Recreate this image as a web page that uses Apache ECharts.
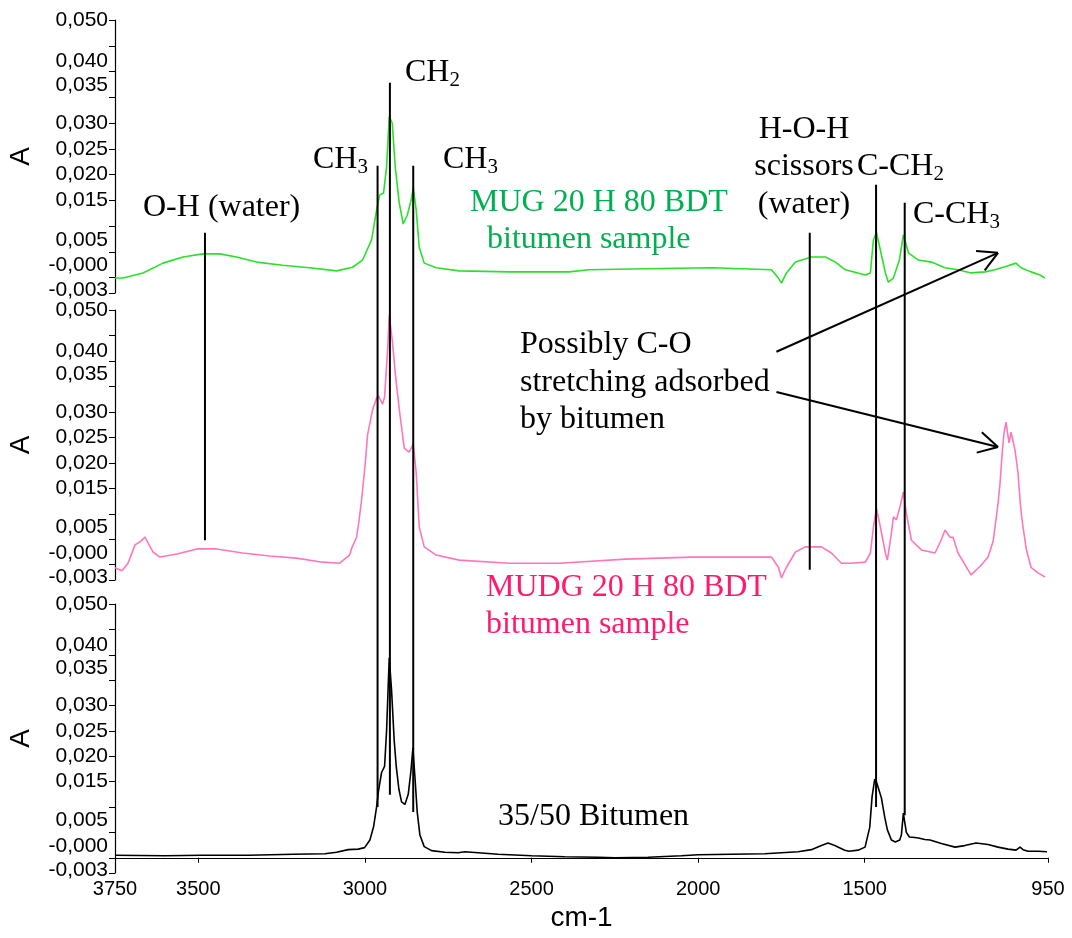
<!DOCTYPE html>
<html><head><meta charset="utf-8">
<script src="https://cdn.jsdelivr.net/npm/echarts@6/dist/echarts.min.js"></script>
<style>html,body{margin:0;padding:0;background:#fff}#c{width:1072px;height:938px}</style>
</head><body><div id="c"></div>
<script>
// ---------- data ----------
const wnMUG = [3750,3726,3666,3606,3546,3486,3436,3385,3325,3247,3166,3085,3037,3007,2980,2965,2956,2944,2935,2927,2918,2909,2897,2885,2873,2861,2855,2846,2837,2822,2786,2717,2567,2387,2328,2157,1959,1780,1759,1750,1735,1708,1660,1618,1588,1558,1498,1483,1474,1465,1453,1438,1429,1414,1396,1384,1369,1339,1300,1259,1220,1181,1139,1109,1079,1046,1031,1001,974,959];
const absMUG = [-0.0001,-0.0001,0.0009,0.0028,0.0040,0.0046,0.0046,0.0040,0.0030,0.0024,0.0019,0.0013,0.0020,0.0034,0.0073,0.0131,0.0160,0.0164,0.0215,0.0312,0.0300,0.0215,0.0145,0.0104,0.0121,0.0151,0.0174,0.0131,0.0059,0.0028,0.0019,0.0013,0.0011,0.0011,0.0015,0.0017,0.0019,0.0015,-0.0001,-0.0011,0.0009,0.0030,0.0040,0.0040,0.0030,0.0015,0.0005,0.0009,0.0073,0.0088,0.0053,0.0009,-0.0009,-0.0001,0.0034,0.0083,0.0048,0.0034,0.0030,0.0019,0.0015,0.0009,0.0011,0.0015,0.0021,0.0028,0.0019,0.0011,0.0005,-0.0001];

const wnMUDG = [3750,3729,3711,3690,3675,3660,3651,3636,3615,3564,3504,3445,3367,3286,3205,3127,3076,3046,3040,3025,3018,3010,2998,2992,2986,2977,2965,2959,2947,2941,2932,2927,2918,2906,2894,2882,2867,2855,2846,2837,2822,2786,2717,2567,2417,2217,2019,1780,1759,1750,1735,1708,1678,1630,1600,1570,1540,1498,1483,1474,1465,1453,1438,1432,1420,1414,1405,1393,1384,1375,1360,1330,1289,1271,1259,1244,1235,1220,1181,1151,1130,1115,1109,1100,1094,1088,1082,1076,1067,1061,1049,1040,1034,1030,1025,1015,1001,980,959];
const absMUDG = [-0.0006,-0.0012,0.0003,0.0039,0.0045,0.0054,0.0043,0.0025,0.0015,0.0021,0.0031,0.0031,0.0023,0.0017,0.0013,0.0005,0.0003,0.0019,0.0032,0.0054,0.0085,0.0127,0.0206,0.0255,0.0255,0.0304,0.0327,0.0331,0.0315,0.0329,0.0421,0.0490,0.0441,0.0357,0.0290,0.0229,0.0221,0.0237,0.0180,0.0074,0.0035,0.0019,0.0009,0.0003,0.0003,0.0011,0.0015,0.0015,-0.0005,-0.0026,-0.0005,0.0025,0.0035,0.0035,0.0023,0.0003,0.0003,0.0005,0.0023,0.0074,0.0111,0.0074,0.0023,0.0009,0.0062,0.0094,0.0088,0.0117,0.0143,0.0101,0.0048,0.0029,0.0023,0.0048,0.0068,0.0054,0.0054,0.0023,-0.0020,-0.0001,0.0015,0.0045,0.0074,0.0120,0.0160,0.0215,0.0259,0.0280,0.0239,0.0260,0.0225,0.0180,0.0127,0.0100,0.0074,0.0030,-0.0005,-0.0016,-0.0024];

const wnBit = [3750,3600,3490,3350,3214,3120,3085,3050,3020,3001,2985,2974,2965,2959,2950,2941,2935,2927,2920,2912,2906,2898,2890,2880,2870,2862,2856,2850,2843,2835,2822,2800,2760,2720,2700,2600,2500,2400,2300,2250,2150,2050,2000,1900,1800,1750,1700,1660,1630,1610,1590,1560,1547,1520,1499,1485,1478,1470,1465,1458,1450,1440,1432,1420,1408,1395,1390,1384,1380,1375,1366,1350,1339,1320,1304,1270,1229,1200,1166,1130,1100,1070,1046,1040,1034,1025,1010,980,953];
const absBit = [0.0005,0.0004,0.0005,0.0005,0.0007,0.0008,0.0011,0.0016,0.0017,0.0020,0.0035,0.0061,0.0100,0.0133,0.0168,0.0180,0.0250,0.0394,0.0330,0.0230,0.0180,0.0135,0.0110,0.0105,0.0125,0.0170,0.0216,0.0160,0.0090,0.0045,0.0022,0.0014,0.0011,0.0010,0.0012,0.0007,0.0004,0.0002,0.0001,0.0000,0.0001,0.0004,0.0006,0.0007,0.0008,0.0010,0.0012,0.0016,0.0024,0.0029,0.0024,0.0015,0.0013,0.0015,0.0021,0.0060,0.0120,0.0155,0.0150,0.0135,0.0118,0.0080,0.0055,0.0035,0.0031,0.0035,0.0045,0.0088,0.0070,0.0050,0.0041,0.0040,0.0039,0.0036,0.0035,0.0028,0.0021,0.0024,0.0029,0.0026,0.0021,0.0017,0.0015,0.0018,0.0021,0.0016,0.0013,0.0013,0.0012];

const yTickValues = [0.05,0.045,0.04,0.035,0.03,0.025,0.02,0.015,0.01,0.005,0,-0.003];
const yLabelValues = [0.05,0.04,0.035,0.03,0.025,0.02,0.015,0.005,0,-0.003];
const yLabelTexts = ['0,050','0,040','0,035','0,030','0,025','0,020','0,015','0,005','-0,000','-0,003'];
const xLabelValues = [3750,3500,3000,2500,2000,1500,950];

// annotation anchors (wavenumber, panel, absorbance)
const bandLines = [
  {wn:3480, g1:0, v1:0.0087, g2:1, v2:0.0048},
  {wn:2962, g1:0, v1:0.0217, g2:2, v2:0.0100},
  {wn:2925, g1:0, v1:0.0378, g2:2, v2:0.0124},
  {wn:2855, g1:0, v1:0.0217, g2:2, v2:0.0090},
  {wn:1665, g1:0, v1:0.0087, g2:1, v2:-0.0010},
  {wn:1466, g1:0, v1:0.0180, g2:2, v2:0.0100},
  {wn:1380, g1:0, v1:0.0145, g2:2, v2:0.0084}
];
const arrows = [
  {wn1:1765, g1:1, v1:0.0418, wn2:1100, g2:0, v2:0.0048},
  {wn1:1765, g1:1, v1:0.0339, wn2:1100, g2:1, v2:0.0231}
];

// ---------- chart ----------
const SANS = 'Liberation Sans, Arial, sans-serif';
const SERIF = 'Liberation Serif, Times New Roman, serif';
const chart = echarts.init(document.getElementById('c'), null, {renderer:'canvas'});
const gridsPx = [{top:20,height:273},{top:310,height:270},{top:604,height:269}];
const zip = (a,b) => a.map((x,i)=>[x,b[i]]);
const labelMap = {};
yLabelValues.forEach((v,i)=>{ labelMap[Math.round(v*1000)] = yLabelTexts[i]; });
// the source plot draws some tick labels slightly above their tick
const raisedStyle = {40:'u', 35:'uu', 5:'uu', 0:'uu', '-3':'d'};
const yLabFont = {fontFamily:SANS, fontSize:21, color:'#000'};

const option = {
  animation:false,
  backgroundColor:'#fff',
  grid: gridsPx.map(g=>({left:115, right:24, top:g.top, height:g.height, containLabel:false, outerBoundsMode:'none'})),
  xAxis: [0,1,2].map(i=>({
    gridIndex:i, type:'value', inverse:true, min:950, max:3750,
    show: i===2,
    axisLine:{show:i===2, lineStyle:{color:'#000', width:1.2}},
    axisTick:{show:i===2, customValues:xLabelValues, length:5, lineStyle:{color:'#000'}},
    axisLabel:{show:i===2, customValues:xLabelValues, showMinLabel:true, showMaxLabel:true, color:'#000', fontFamily:SANS, fontSize:20, margin:6, formatter:v=>String(v)},
    splitLine:{show:false},
    name: i===2 ? 'cm-1' : '', nameLocation:'middle', nameGap:31,
    nameTextStyle:{color:'#000', fontFamily:SANS, fontSize:28}
  })),
  yAxis: [0,1,2].map(i=>({
    gridIndex:i, type:'value', min:-0.003, max:0.05,
    axisLine:{show:true, lineStyle:{color:'#000', width:1.2}},
    axisTick:{show:true, customValues:yTickValues, length:6, lineStyle:{color:'#000'}},
    axisLabel:{customValues:yLabelValues, showMinLabel:true, showMaxLabel:true, hideOverlap:false,
      color:'#000', fontFamily:SANS, fontSize:21, margin:7,
      formatter:v=>{
        const k = Math.round(v*1000);
        const t = labelMap[k] || '';
        const st = raisedStyle[k] || 'n';
        return '{' + st + '|' + t + '}';
      },
      rich:{
        n:Object.assign({}, yLabFont),
        d:Object.assign({padding:[0,0,6,0]}, yLabFont),
        u:Object.assign({padding:[0,0,20,0]}, yLabFont),
        uu:Object.assign({padding:[0,0,24,0]}, yLabFont)
      }},
    splitLine:{show:false},
    name:'A', nameLocation:'middle', nameRotate:90, nameGap:80,
    nameTextStyle:{color:'#000', fontFamily:SANS, fontSize:28}
  })),
  series: [
    {type:'line', xAxisIndex:0, yAxisIndex:0, data:zip(wnMUG,absMUG), showSymbol:false, lineStyle:{color:'#2be02b', width:1.6}, itemStyle:{color:'#2be02b'}},
    {type:'line', xAxisIndex:1, yAxisIndex:1, data:zip(wnMUDG,absMUDG), showSymbol:false, lineStyle:{color:'#ff77bb', width:1.6}, itemStyle:{color:'#ff77bb'}},
    {type:'line', xAxisIndex:2, yAxisIndex:2, data:zip(wnBit,absBit), showSymbol:false, lineStyle:{color:'#000', width:1.6}, itemStyle:{color:'#000'}}
  ]
};
chart.setOption(option);

// ---------- annotations ----------
const px = (g, wn, v) => chart.convertToPixel({gridIndex:g}, [wn, v]);
const gfx = [];
bandLines.forEach(b=>{
  const p1 = px(b.g1, b.wn, b.v1), p2 = px(b.g2, b.wn, b.v2);
  gfx.push({type:'line', shape:{x1:p1[0], y1:p1[1], x2:p2[0], y2:p2[1]}, style:{stroke:'#000', lineWidth:2}, z:10});
});
arrows.forEach(a=>{
  const p1 = px(a.g1, a.wn1, a.v1), p2 = px(a.g2, a.wn2, a.v2);
  gfx.push({type:'line', shape:{x1:p1[0], y1:p1[1], x2:p2[0], y2:p2[1]}, style:{stroke:'#000', lineWidth:2}, z:10});
  const ang = Math.atan2(p1[1]-p2[1], p1[0]-p2[0]);
  const L = 22, da = 0.5;
  [ -da, da ].forEach(d=>{
    gfx.push({type:'line', shape:{x1:p2[0], y1:p2[1], x2:p2[0]+L*Math.cos(ang+d), y2:p2[1]+L*Math.sin(ang+d)}, style:{stroke:'#000', lineWidth:2}, z:10});
  });
});
const rich = {
  m:{fontFamily:SERIF, fontSize:32, lineHeight:36, color:'#000'},
  s:{fontFamily:SERIF, fontSize:21, lineHeight:24, verticalAlign:'bottom', color:'#000'}
};
function txt(text, x, y, color, align){
  gfx.push({type:'text', z:20, style:{text, x, y, fill:color||'#000', font:'32px '+SERIF, textAlign:align||'left', textVerticalAlign:'middle'}});
}
function rtxt(text, x, y){
  gfx.push({type:'text', z:20, style:{text, x, y, rich, textAlign:'left', textVerticalAlign:'middle'}});
}
txt('O-H (water)', 143, 208);
rtxt('{m|CH}{s|3}', 313, 160);
rtxt('{m|CH}{s|2}', 405, 73);
rtxt('{m|CH}{s|3}', 443, 160);
txt('MUG 20 H 80 BDT', 470, 203, '#00b050');
txt('bitumen sample', 487, 240, '#00b050');
txt('H-O-H', 804, 130, '#000', 'center');
txt('scissors', 804, 167, '#000', 'center');
txt('(water)', 804, 205, '#000', 'center');
rtxt('{m|C-CH}{s|2}', 857, 167);
rtxt('{m|C-CH}{s|3}', 913, 215);
txt('Possibly C-O', 520, 345);
txt('stretching adsorbed', 520, 383);
txt('by bitumen', 520, 420);
txt('MUDG 20 H 80 BDT', 486, 588, '#ff1a6e');
txt('bitumen sample', 486, 625, '#ff1a6e');
txt('35/50 Bitumen', 498, 817);
chart.setOption({graphic: gfx});
</script>
</body></html>
